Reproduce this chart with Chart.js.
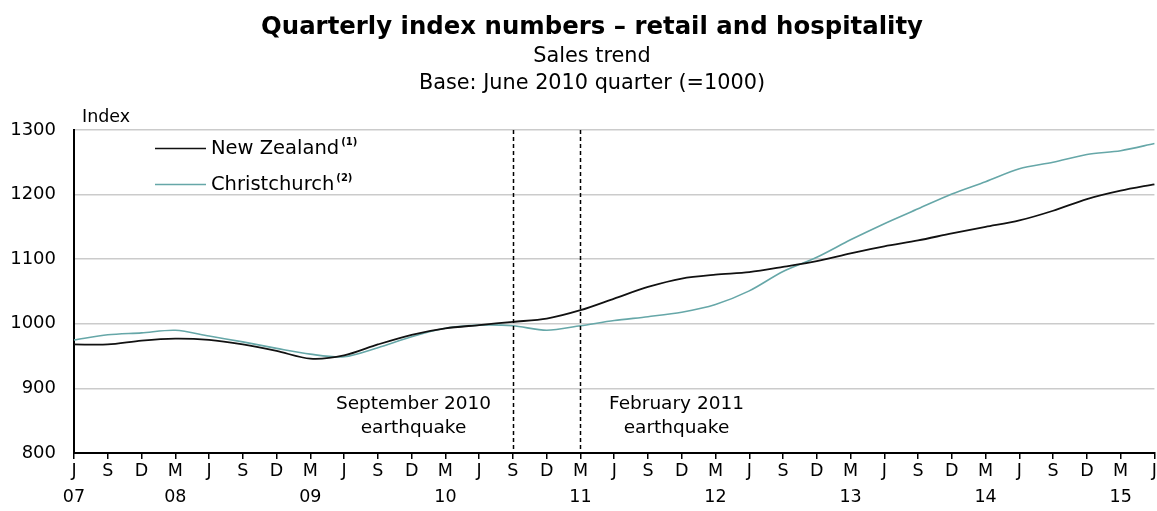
<!DOCTYPE html>
<html>
<head>
<meta charset="utf-8">
<title>Quarterly index numbers – retail and hospitality</title>
<script src="https://cdn.jsdelivr.net/npm/chart.js@4/dist/chart.umd.min.js"></script>
<style>
  html, body { margin: 0; padding: 0; background: #fff; }
  #wrap { width: 1157px; height: 511px; }
</style>
</head>
<body>
<div id="wrap"><canvas id="salesChart" width="1157" height="511"></canvas></div>
<script>
/* Quarterly index numbers - retail and hospitality (June 2010 qtr = 1000) */

var QUARTER_LETTERS = ['J', 'S', 'D', 'M', 'J', 'S', 'D', 'M', 'J', 'S', 'D', 'M', 'J', 'S', 'D', 'M', 'J',
  'S', 'D', 'M', 'J', 'S', 'D', 'M', 'J', 'S', 'D', 'M', 'J', 'S', 'D', 'M', 'J'];
var YEAR_LABELS = ['07', '', '', '08', '', '', '', '09', '', '', '', '10', '', '', '', '11', '',
  '', '', '12', '', '', '', '13', '', '', '', '14', '', '', '', '15', ''];
var NZ_INDEX = [968, 968, 974, 977, 975, 968, 958, 946, 951, 968, 983, 993, 998, 1003, 1008, 1021, 1039,
  1057, 1070, 1076, 1080, 1088, 1097, 1109, 1120, 1129, 1140, 1150, 1160, 1175, 1193, 1206, 1216];
var CHCH_INDEX = [975, 983, 986, 990, 981, 972, 962, 953, 949, 963, 980, 993, 998, 997, 990, 997, 1005,
  1011, 1018, 1030, 1051, 1081, 1103, 1130, 1155, 1178, 1201, 1220, 1240, 1250, 1262, 1268, 1279];
var SERIES_NAMES = ['New Zealand', 'Christchurch'];
var SERIES_NOTES = ['(1)', '(2)'];
var Y_TICKS = [800, 900, 1000, 1100, 1200, 1300];
var EVENT_QUARTERS = [13, 15];
var EVENT_LABELS = [['September 2010', 'earthquake'], ['February 2011', 'earthquake']];
var TITLE = 'Quarterly index numbers – retail and hospitality';
var SUBTITLES = ['Sales trend', 'Base: June 2010 quarter (=1000)'];

var FONT = 'DejaVu Sans';
var TEAL = '#66a7a8';

function buildLabels() {
  var labels = [];
  for (var i = 0; i < QUARTER_LETTERS.length; i += 1) {
    labels.push([QUARTER_LETTERS[i], YEAR_LABELS[i]]);
  }
  return labels;
}

// headings, dashed earthquake lines, their captions, the legend and the "Index" label
var overlayPlugin = {
  id: 'overlay',
  afterDatasetsDraw: function (chart) {
    var ctx = chart.ctx;
    var area = chart.chartArea;
    var xs = chart.scales.x;
    var ys = chart.scales.y;
    var mid = 592;
    var i;

    ctx.save();
    ctx.fillStyle = '#000';
    ctx.textAlign = 'center';
    ctx.textBaseline = 'middle';
    ctx.font = 'bold 24.4px "' + FONT + '"';
    ctx.fillText(TITLE, mid, 28);
    ctx.font = '20.8px "' + FONT + '"';
    ctx.fillText(SUBTITLES[0], mid, 57);
    ctx.fillText(SUBTITLES[1], mid, 84);

    ctx.strokeStyle = '#000';
    ctx.lineWidth = 1.5;
    ctx.setLineDash([4, 3]);
    for (i = 0; i < EVENT_QUARTERS.length; i += 1) {
      var px = Math.round(xs.getPixelForValue(EVENT_QUARTERS[i])) + 0.5;
      ctx.beginPath();
      ctx.moveTo(px, area.top);
      ctx.lineTo(px, area.bottom);
      ctx.stroke();

      var cx = px + (i === 0 ? -100 : 96);
      ctx.font = '18.5px "' + FONT + '"';
      ctx.textAlign = 'center';
      ctx.fillText(EVENT_LABELS[i][0], cx, ys.getPixelForValue(875));
      ctx.fillText(EVENT_LABELS[i][1], cx, ys.getPixelForValue(838));
    }
    ctx.setLineDash([]);

    // legend
    var lx = area.left + 81;
    var rows = [area.top + 18, area.top + 54];
    SERIES_NAMES.forEach(function (name, k) {
      var ds = chart.data.datasets.filter(function (d) { return d.label === name; })[0];
      var ly = rows[k] + 0.5;
      ctx.strokeStyle = ds.borderColor;
      ctx.lineWidth = 1.6;
      ctx.beginPath();
      ctx.moveTo(lx, ly);
      ctx.lineTo(lx + 51, ly);
      ctx.stroke();

      ctx.font = '19.5px "' + FONT + '"';
      ctx.textAlign = 'left';
      ctx.fillText(name, lx + 56, ly);
      var w = ctx.measureText(name).width;
      ctx.font = 'bold 10px "' + FONT + '"';
      ctx.fillText(SERIES_NOTES[k], lx + 58 + w, ly - 6);
    });

    // axis title
    ctx.font = '17.5px "' + FONT + '"';
    ctx.textAlign = 'left';
    ctx.fillText('Index', area.left + 8, area.top - 13);
    ctx.restore();
  }
};

var chart = new Chart(document.getElementById('salesChart').getContext('2d'), {
  type: 'line',
  data: {
    labels: buildLabels(),
    datasets: [
      {
        label: SERIES_NAMES[0],
        data: NZ_INDEX,
        borderColor: '#111',
        borderWidth: 1.8,
        pointRadius: 0,
        tension: 0.3,
        fill: false,
        order: 0
      },
      {
        label: SERIES_NAMES[1],
        data: CHCH_INDEX,
        borderColor: TEAL,
        borderWidth: 1.6,
        pointRadius: 0,
        tension: 0.3,
        fill: false,
        order: 1
      }
    ]
  },
  options: {
    responsive: false,
    animation: false,
    devicePixelRatio: 1,
    layout: { padding: { left: 0, right: 0, top: 130, bottom: 0 } },
    plugins: {
      legend: { display: false },
      tooltip: { enabled: false },
      title: { display: false }
    },
    scales: {
      x: {
        offset: false,
        grid: { display: true, drawOnChartArea: false, drawTicks: true, tickLength: 6, color: '#000', lineWidth: 1.5 },
        border: { display: true, color: '#000', width: 2 },
        ticks: {
          autoSkip: false,
          maxRotation: 0,
          padding: 0,
          color: '#000',
          font: { family: FONT, size: 17.5, lineHeight: 1.45 }
        },
        afterFit: function (scale) { scale.height = 58; }
      },
      y: {
        min: Y_TICKS[0],
        max: Y_TICKS[Y_TICKS.length - 1],
        afterBuildTicks: function (scale) {
          scale.ticks = Y_TICKS.map(function (v) { return { value: v }; });
        },
        grid: {
          drawTicks: false,
          lineWidth: 1.5,
          color: function (c) { return c.tick && c.tick.value === Y_TICKS[0] ? 'rgba(0,0,0,0)' : '#cbcbcb'; }
        },
        border: { display: true, color: '#000', width: 2 },
        ticks: {
          padding: 18,
          color: '#000',
          font: { family: FONT, size: 18 },
          callback: function (value) { return String(value); }
        },
        afterFit: function (scale) { scale.width = 74; }
      }
    }
  },
  plugins: [overlayPlugin]
});
</script>
</body>
</html>
